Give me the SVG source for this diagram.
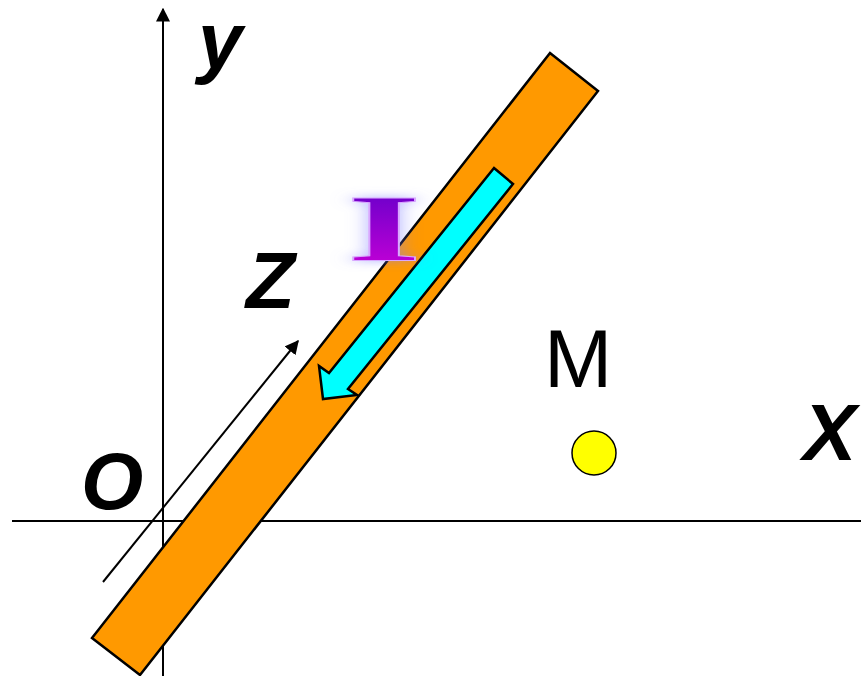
<svg xmlns="http://www.w3.org/2000/svg" width="861" height="676" viewBox="0 0 861 676">
<style>
.axis{stroke:#000;stroke-width:2;fill:none}
.lbl{font-family:"Liberation Sans",Arial,sans-serif;font-size:80px;fill:#000}
.bi{font-weight:bold;font-style:italic}
</style>
<defs>
<marker id="ah2" viewBox="0 0 10 10" refX="9" refY="5" markerWidth="14" markerHeight="14" markerUnits="userSpaceOnUse" orient="auto"><path d="M0,0 L10,5 L0,10 Z" fill="#000"/></marker>
<linearGradient id="ig" x1="0" y1="0" x2="0" y2="1"><stop offset="0" stop-color="#5a00c8"/><stop offset="1" stop-color="#d200d8"/></linearGradient>
<filter id="glow" x="-50%" y="-50%" width="200%" height="200%"><feGaussianBlur in="SourceAlpha" stdDeviation="5" result="b"/><feFlood flood-color="#8080ff" flood-opacity="0.6"/><feComposite in2="b" operator="in" result="g"/><feMerge><feMergeNode in="g"/><feMergeNode in="SourceGraphic"/></feMerge></filter>
</defs>
<g id="connectors">
<line class="axis" x1="12" y1="521" x2="861" y2="521"/>
<line class="axis" x1="163" y1="676" x2="163" y2="9" marker-end="url(#ah2)"/>
<line class="axis" x1="103" y1="582" x2="298" y2="341" marker-end="url(#ah2)"/>
</g>
<g id="bar">
<polygon points="550,53 598,91 140,675 92,638" fill="#ff9900" stroke="#000" stroke-width="2.5"/>
</g>
<g id="current-arrow">
<polygon points="494,168 513,184 348,389 357,395 323,399 319,366 329,373" fill="#00ffff" stroke="#000" stroke-width="2.5"/>
</g>
<g id="label-I">
<text x="0" y="0" transform="translate(384,261) scale(2,1)" text-anchor="middle" font-family="Liberation Serif,'Times New Roman',serif" font-weight="bold" font-size="96" fill="url(#ig)" stroke="#d9a8ff" stroke-width="1" filter="url(#glow)">I</text>
</g>
<g id="labels">
<text class="lbl bi" x="198" y="68">y</text>
<text class="lbl bi" x="246" y="308">Z</text>
<text class="lbl bi" x="81" y="509">O</text>
<text class="lbl bi" x="803" y="460">X</text>
<text class="lbl" x="544" y="387" style="font-size:82px">M</text>
</g>
<g id="point-M">
<circle cx="594" cy="453" r="22" fill="#ffff00" stroke="#000" stroke-width="1.5"/>
</g>
</svg>
